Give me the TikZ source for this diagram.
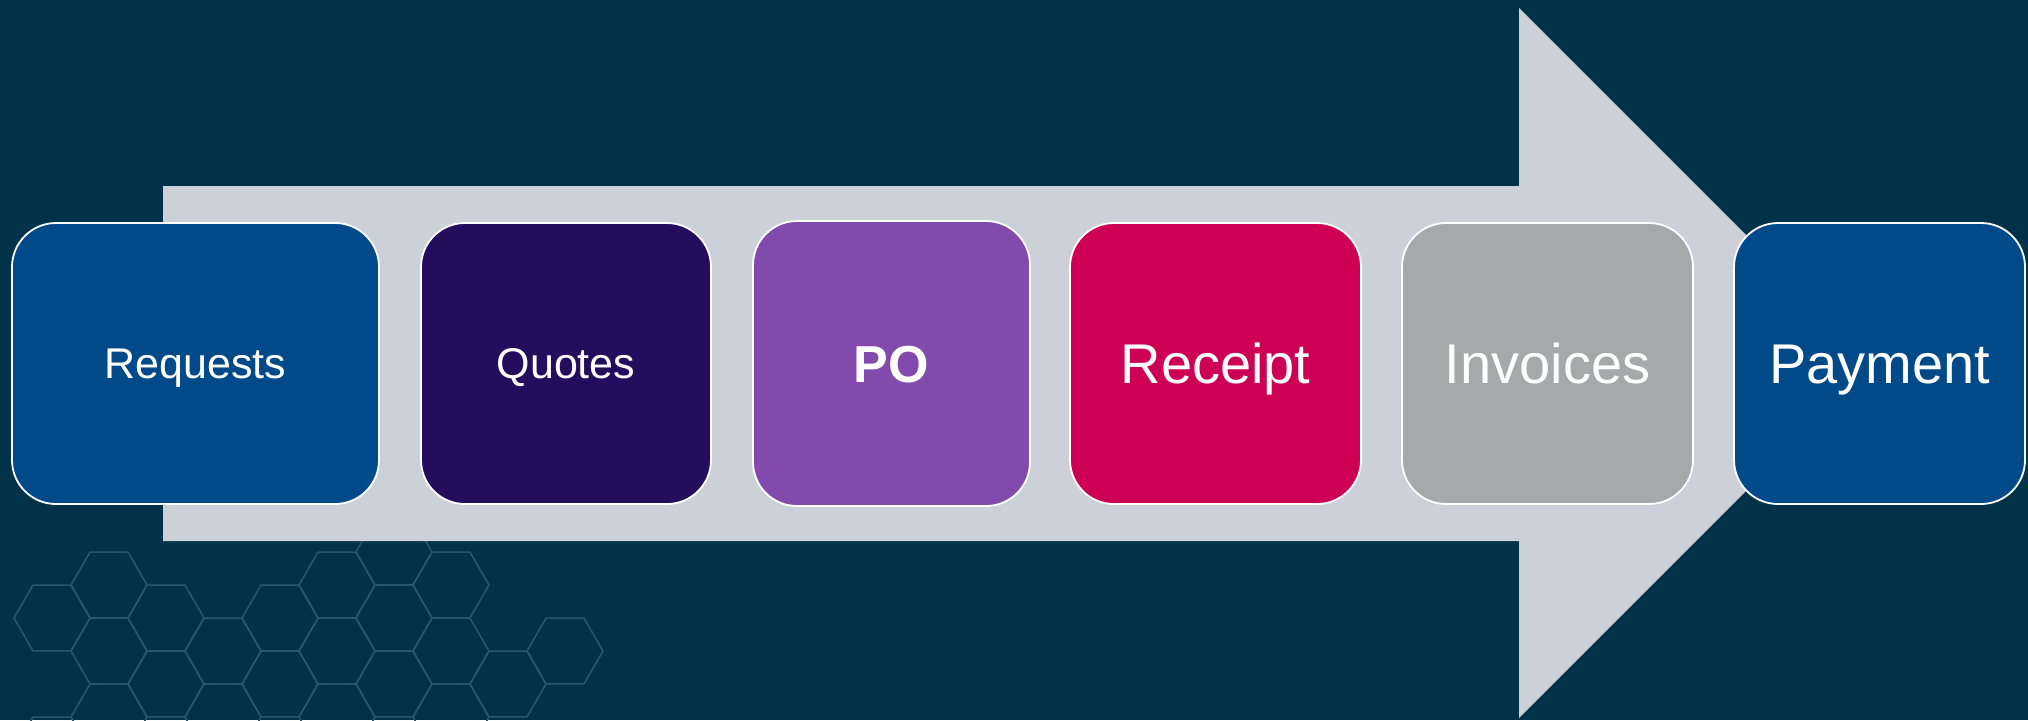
\documentclass[tikz,border=0pt]{standalone}
\usepackage{fontspec}
\setmainfont{Liberation Sans}
\definecolor{bgnavy}{RGB}{0,51,74}
\definecolor{shaftgray}{RGB}{204,209,217}
\definecolor{hexteal}{RGB}{42,86,108}
\definecolor{stblue}{RGB}{0,74,138}
\definecolor{stindigo}{RGB}{37,13,94}
\definecolor{stpurple}{RGB}{131,74,173}
\definecolor{stcrimson}{RGB}{206,0,85}
\definecolor{stgray}{RGB}{166,168,170}

\begin{document}
\begin{tikzpicture}[x=0.5pt,y=-0.5pt,
    stage/.style={rectangle, rounded corners=22pt, draw=white, line width=0.9pt,
      text=white, inner sep=0pt, minimum width=145.5pt, minimum height=140.5pt,
      text depth=0pt},
    smalltext/.style={font=\fontsize{21.5}{24}\selectfont, text height=15.4pt},
    bigtext/.style={font=\fontsize{28}{32}\selectfont, text height=20pt},
    hexline/.style={draw=hexteal, line width=0.8pt, line join=round}]
  % Pixel grid: x to the right, y downward, 2028 x 720
  \fill[bgnavy] (0,0) rectangle (2028,720);
  \useasboundingbox (0,0) rectangle (2028,720);
  \clip (0,0) rectangle (2028,720);
  % Honeycomb in the lower left corner (flat-top hexagons, radius 38)
  \foreach \hx/\hy in {52/618, 52/750,
      109/585, 109/651, 109/717,
      166/618, 166/684,
      223/651, 223/717,
      280/618, 280/684,
      337/585, 337/651, 337/717,
      394/552, 394/618, 394/684,
      451/585, 451/651, 451/717,
      508/684, 565/651}
    \draw[hexline, shift={(\hx,\hy)}] (0:38) -- (60:38) -- (120:38) -- (180:38)
      -- (240:38) -- (300:38) -- cycle;
  % Big arrow behind the stages
  \fill[shaftgray] (163,186) -- (1519,186) -- (1519,8) -- (1874,363)
    -- (1519,718) -- (1519,541) -- (163,541) -- cycle;
  % Stages, left to right
  \node[stage, smalltext, fill=stblue, minimum width=183.5pt] (req) at (195.5,363.5) {Requests};
  \node[stage, smalltext, fill=stindigo, minimum width=145pt] (quo) at (566,363.5) {Quotes};
  \node[stage, fill=stpurple, minimum width=138.5pt, minimum height=142.5pt,
    font=\fontsize{26}{30}\selectfont\bfseries, text height=18.6pt] (po) at (891.5,363.5) {PO};
  \node[stage, bigtext, fill=stcrimson] (rec) at (1215.5,363.5) {Receipt};
  \node[stage, bigtext, fill=stgray] (inv) at (1547.5,363.5) {Invoices};
  \node[stage, bigtext, fill=stblue] (pay) at (1879.5,363.5) {Payment};
\end{tikzpicture}
\end{document}
